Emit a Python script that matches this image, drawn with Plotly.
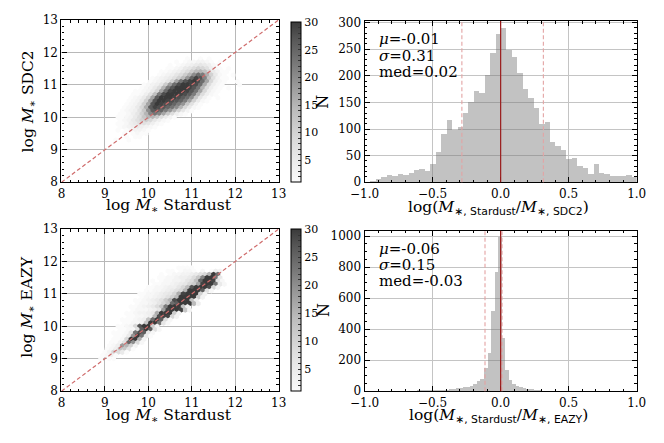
import numpy as np
import plotly.graph_objects as go

W, H = 664, 443
SERIF = "'DejaVu Serif', 'Liberation Serif', serif"

# ---------------- data ----------------
# hexbin cells: (row y, x of first cell, counts coded base-36 per cell; '.' = empty); cells 0.1 apart in x
sdc2_hex_rows = [
    (11.8, 10.9,  "1..1.1"),
    (11.7, 10.65, "1.1223321.1"),
    (11.6, 10.5,  "1.1234565421"),
    (11.5, 10.45, "1123568a97421.1"),
    (11.4, 10.3,  "1123468befd95311"),
    (11.3, 10.25, "123468bfkomga521.1"),
    (11.2, 10.1,  "123457aejptrld7311"),
    (11.1, 10.05, "12346ahnrtusoh9421..1"),
    (11.0, 9.9,   "12346biosuutsog8421...1"),
    (10.9, 9.85,  "12358fmruuutrnf8421.1"),
    (10.8, 9.7,   "112359hotuuutrnh9421"),
    (10.7, 9.65,  "11247dmsuuutsqmf8421"),
    (10.6, 9.6,   "12359hquuutsqokc631.1"),
    (10.5, 9.55,  "1235airuutsrpmha521"),
    (10.4, 9.5,   "1235ahrutsrpmjc731"),
    (10.3, 9.45,  "12359gqtsrpnkf9521"),
    (10.2, 9.4,   "12347ckqrpmjfa631"),
    (10.1, 9.35,  "11246aflnlhc8421"),
    (10.0, 9.3,   "112358cffc8531"),
    (9.9, 9.35,   "12357ab96421"),
    (9.8, 9.3,    "11245776421"),
    (9.7, 9.35,   "123454321"),
    (9.6, 9.3,    "1.123321"),
    (9.5, 9.45,   "1.1211"),
    (9.4, 9.5,    "1.11"),
    (9.3, 9.25,   "1..1"),
]

eazy_hex_rows = [
    (11.8, 10.7,  "1111"),
    (11.7, 10.45, "11.1221.2.143"),
    (11.6, 10.3,  "1.122334579fuo"),
    (11.5, 10.25, "112234458cluun5"),
    (11.4, 10.1,  "1.12233468dpuut72"),
    (11.3, 10.15, "112234569bhtuun52"),
    (11.2, 10.0,  "112234469ervuus93"),
    (11.1, 9.95,  "112234579fuuuq72"),
    (11.0, 9.8,   "112234569gtuuua3"),
    (10.9, 9.85,  "1223457aeuuuub3"),
    (10.8, 9.7,   "1123457bfsuuud4"),
    (10.7, 9.75,  "1223469coquuue4"),
    (10.6, 9.6,   "1123458cmuuud4"),
    (10.5, 9.65,  "1222346ituutc3"),
    (10.4, 9.5,   "1123345guuub3"),
    (10.3, 9.55,  "112234estt93"),
    (10.2, 9.4,   "111234douq82"),
    (10.1, 9.45,  "11223cuun62"),
    (10.0, 9.3,   "11239ruub3"),
    (9.9, 9.35,   "11227quq72"),
    (9.8, 9.2,    "11126nsq62"),
    (9.7, 9.25,   "1125jun51"),
    (9.6, 9.2,    "1129uug3"),
    (9.5, 9.15,   "1137pk92"),
    (9.4, 9.1,    "124ifa3"),
    (9.3, 9.05,   "124dc71"),
    (9.2, 9.0,    "139851"),
    (9.1, 8.95,   "1241"),
    (9.0, 8.9,    "1.11"),
]
hex_step = 0.1
one_to_one = [8, 13]

# histogram of log(M_Stardust / M_SDC2): 50 bins on [-1, 1]
sdc2_edges = np.linspace(-1.0, 1.0, 51)
sdc2_counts = [0, 2, 6, 9, 14, 12, 15, 13, 18, 23, 24, 21, 34, 56, 90, 117, 98, 104, 130, 150,
               172, 168, 202, 242, 278,
               289, 248, 236, 205, 175, 158, 140, 110, 114, 75, 69, 61, 44, 46, 30,
               26, 16, 35, 18, 15, 12, 12, 12, 13, 10]
sdc2_lines = {"solid": [0.0], "dashed": [-0.285, 0.314]}
sdc2_stats = ["<i>μ</i>=-0.01", "<i>σ</i>=0.31", "med=0.02"]

# histogram of log(M_Stardust / M_EAZY): 76 bins of width 0.026
eazy_edges = np.linspace(-0.983, 0.993, 77)
eazy_counts = [0, 1, 1, 2, 2, 2, 3, 3, 3, 4, 4, 5, 6, 6, 7, 7, 8, 9, 9, 10,
               11, 12, 12, 14, 16, 20, 24, 28, 32, 38, 50, 65, 80, 153, 250, 520, 768,
               998,
               344, 137, 75, 45, 33, 26, 21, 18, 15, 10, 7, 5, 4, 3, 3, 2, 2, 2, 1, 1,
               1, 1, 1, 0, 1, 0, 0, 1, 0, 0, 0, 0, 0, 0, 0, 0, 0, 0]
eazy_lines = {"solid": [0.0], "dashed": [-0.115, 0.01]}
eazy_stats = ["<i>μ</i>=-0.06", "<i>σ</i>=0.15", "med=-0.03"]

cbar_tickvals = list(range(1, 31))
cbar_ticktext = [str(v) if v % 5 == 0 else "" for v in cbar_tickvals]


def decode(rows):
    xs, ys, cs = [], [], []
    for y, x0, codes in rows:
        for k, ch in enumerate(codes):
            if ch == ".":
                continue
            xs.append(round(x0 + hex_step * k, 3))
            ys.append(y)
            cs.append(int(ch, 36))
    return xs, ys, cs


grey_scale = [[0.0, "#fbfbfb"], [0.1, "#efefef"], [0.25, "#dcdcdc"], [0.45, "#bcbcbc"],
              [0.6, "#9a9a9a"], [0.75, "#767676"], [0.9, "#555555"], [1.0, "#3a3a3a"]]


def px_x(a, b):
    return [a / W, b / W]


def px_y(top, bottom):
    return [1 - bottom / H, 1 - top / H]


fig = go.Figure()


def cbar(top, bottom):
    return dict(x=286.7 / W, xanchor="left", xpad=0,
                y=1 - bottom / H, yanchor="bottom", ypad=0,
                len=(bottom - top) / H, lenmode="fraction",
                thickness=9.5, thicknessmode="pixels",
                outlinewidth=1, outlinecolor="black",
                tickmode="array", tickvals=cbar_tickvals, ticktext=cbar_ticktext,
                ticks="inside", ticklen=3, tickcolor="#333333", tickwidth=0.7,
                tickfont=dict(family=SERIF, size=11, color="black"))


for rows, xa, ya, (ctop, cbot) in [(sdc2_hex_rows, "x", "y", (15.7, 181)),
                                   (eazy_hex_rows, "x3", "y3", (229.3, 397))]:
    hx, hy, hc = decode(rows)
    fig.add_trace(go.Scatter(
        x=hx, y=hy, mode="markers", xaxis=xa, yaxis=ya, showlegend=False,
        marker=dict(symbol="hexagon", size=5.5, color=hc, colorscale=grey_scale,
                    cmin=1, cmax=30, line=dict(width=0), showscale=True,
                    colorbar=cbar(ctop, cbot)),
        hoverinfo="skip"))
    fig.add_trace(go.Scatter(
        x=one_to_one, y=one_to_one, mode="lines", xaxis=xa, yaxis=ya, showlegend=False,
        line=dict(color="#cf6b6b", width=1.2, dash="4px,2.5px"), hoverinfo="skip"))

shapes = []
for edges, counts, lines, xa, ya in [(sdc2_edges, sdc2_counts, sdc2_lines, "x2", "y2"),
                                      (eazy_edges, eazy_counts, eazy_lines, "x4", "y4")]:
    centers = (edges[:-1] + edges[1:]) / 2
    widths = np.diff(edges)
    fig.add_trace(go.Bar(
        x=centers, y=counts, width=widths, xaxis=xa, yaxis=ya, showlegend=False,
        marker=dict(color="rgba(120,120,120,0.45)", line=dict(width=0)), hoverinfo="skip"))
    for xv in lines["dashed"]:
        shapes.append(dict(type="line", xref=xa, yref=ya + " domain", x0=xv, x1=xv, y0=0, y1=1,
                           line=dict(color="#e3a3a3", width=1.1, dash="4px,2.5px")))
    for xv in lines["solid"]:
        shapes.append(dict(type="line", xref=xa, yref=ya + " domain", x0=xv, x1=xv, y0=0, y1=1,
                           line=dict(color="#9b1c1c", width=1.2)))


def axis(domain, rng, dtick, minor_dtick, anchor, fmt=None, grid="#b8b8b8"):
    d = dict(domain=domain, range=rng, dtick=dtick, tick0=0,
             ticks="inside", ticklen=5, tickwidth=1, tickcolor="black",
             minor=dict(dtick=minor_dtick, tick0=0, ticks="inside", ticklen=2.5,
                        tickcolor="black", tickwidth=0.8, showgrid=False),
             showline=True, linecolor="black", linewidth=1.3, mirror="allticks",
             showgrid=True, gridcolor=grid, gridwidth=1, zeroline=False, anchor=anchor,
             tickfont=dict(family=SERIF, size=12, color="black"), fixedrange=True)
    if fmt:
        d["tickformat"] = fmt
    return d


xl = px_x(48.3, 274)
xr = px_x(363.3, 646)
fig.update_layout(
    width=W, height=H, margin=dict(l=0, r=0, t=0, b=0),
    paper_bgcolor="white", plot_bgcolor="white", bargap=0,
    font=dict(family=SERIF),
    xaxis=axis(xl, [8, 13], 1, 0.2, "y"),
    yaxis=axis(px_y(13.3, 181), [8, 13], 1, 0.2, "x"),
    xaxis2=axis(xr, [-1, 1], 0.5, 0.1, "y2", ".1f", "#c4c4c4"),
    yaxis2=axis(px_y(14.5, 181), [0, 303], 50, 10, "x2", None, "#c4c4c4"),
    xaxis3=axis(xl, [8, 13], 1, 0.2, "y3"),
    yaxis3=axis(px_y(229.3, 396.7), [8, 13], 1, 0.2, "x3"),
    xaxis4=axis(xr, [-1, 1], 0.5, 0.1, "y4", ".1f", "#c4c4c4"),
    yaxis4=axis(px_y(231, 396.7), [0, 1035], 200, 50, "x4", None, "#c4c4c4"),
    shapes=shapes,
)


def ann(text, xpx, ypx, size, angle=0, xanchor="center", family=SERIF):
    return dict(text=text, x=xpx / W, y=1 - ypx / H, xref="paper", yref="paper",
                showarrow=False, textangle=angle, xanchor=xanchor, yanchor="middle",
                font=dict(family=family, size=size, color="black"))


mstar = "<i>M</i><sub>∗</sub>"
sub = lambda s: "<sub><span style='font-family:DejaVu Sans'>∗, " + s + "</span></sub>"
annotations = [
    ann("log " + mstar + " SDC2", 14, 97, 15.5, -90),
    ann("log " + mstar + " Stardust", 160, 206, 15.5),
    ann("log " + mstar + " EAZY", 14, 309, 15.5, -90),
    ann("log " + mstar + " Stardust", 160, 422, 15.5),
    ann("N", 320, 98, 16, -90),
    ann("N", 320, 313, 16, -90),
    ann("log(<i>M</i>" + sub("Stardust") + "/<i>M</i>" + sub("SDC2") + ")", 502, 208, 15.5),
    ann("log(<i>M</i>" + sub("Stardust") + "/<i>M</i>" + sub("EAZY") + ")", 502, 422, 15.5),
]
for i, t in enumerate(sdc2_stats):
    annotations.append(ann(t, 376, 33.5 + 17 * i, 15, xanchor="left"))
for i, t in enumerate(eazy_stats):
    annotations.append(ann(t, 376, 250 + 16.5 * i, 15, xanchor="left"))
fig.update_layout(annotations=annotations)

fig.write_html("out.html", config={"displayModeBar": False},
               post_script="document.body.style.margin='0';")
